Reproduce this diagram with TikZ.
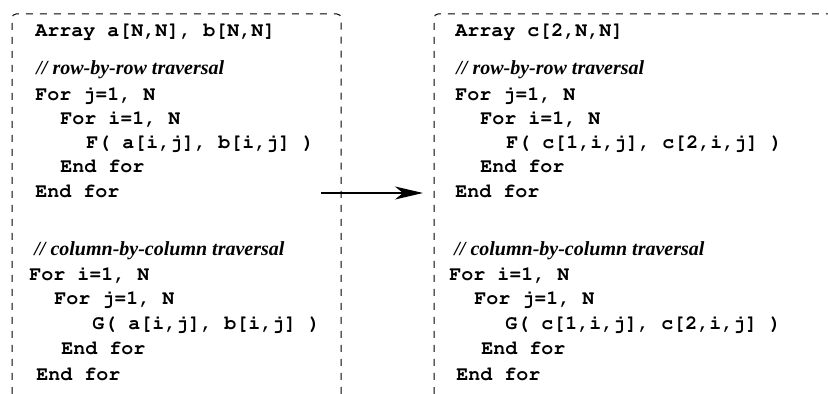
\documentclass[tikz,border=0pt]{standalone}
\usepackage[T1,TU]{fontenc}
\usepackage{fontspec}
\setmainfont{Liberation Serif}
\setmonofont{Liberation Mono}
\usetikzlibrary{arrows.meta}
\newcommand{\cour}{\fontencoding{T1}\fontfamily{pcr}\fontseries{b}\fontshape{n}\fontsize{10}{12}\selectfont}
\begin{document}
\begin{tikzpicture}[x=0.5pt,y=-0.5pt,
  code/.style={font=\cour, anchor=base west, inner sep=0pt},
  cmt/.style={font=\fontsize{10}{12}\selectfont\rmfamily\bfseries\itshape, anchor=base west, inner sep=0pt},
  frame/.style={draw=black, line width=0.5pt, dash pattern=on 3.5pt off 3.5pt, rounded corners=2pt},
  conn/.style={draw=black, line width=0.75pt, -{Stealth[length=14pt,width=6.5pt,inset=4pt]}}]
\useasboundingbox (0,0) rectangle (828,394);
% frames
\draw[frame] (12,394) -- (12,14) -- (341,14) -- (341,394);
\draw[frame] (434,394) -- (434,14) -- (832,14);
% left code
\node[code] (la) at (35,37) {Array a[N,N], b[N,N]};
\node[cmt]  (lc1) at (36,75) {// row-by-row traversal};
\node[code] (l1) at (35,101) {For j=1, N};
\node[code] (l2) at (60,125) {For i=1, N};
\node[code] (l3) at (86,149) {F( a[i,j], b[i,j] )};
\node[code] (l4) at (60,173) {End for};
\node[code] (l5) at (35,198) {End for};
\node[cmt]  (lc2) at (34,256) {// column-by-column traversal};
\node[code] (l6) at (29,281) {For i=1, N};
\node[code] (l7) at (54,305) {For j=1, N};
\node[code] (l8) at (92,330) {G( a[i,j], b[i,j] )};
\node[code] (l9) at (61,355) {End for};
\node[code] (l10) at (36,380) {End for};
% right code
\node[code] (ra) at (455,37) {Array c[2,N,N]};
\node[cmt]  (rc1) at (456,75) {// row-by-row traversal};
\node[code] (r1) at (455,101) {For j=1, N};
\node[code] (r2) at (480,125) {For i=1, N};
\node[code] (r3) at (506,149) {F( c[1,i,j], c[2,i,j] )};
\node[code] (r4) at (480,173) {End for};
\node[code] (r5) at (455,198) {End for};
\node[cmt]  (rc2) at (454,256) {// column-by-column traversal};
\node[code] (r6) at (449,281) {For i=1, N};
\node[code] (r7) at (474,305) {For j=1, N};
\node[code] (r8) at (505,330) {G( c[1,i,j], c[2,i,j] )};
\node[code] (r9) at (481,355) {End for};
\node[code] (r10) at (456,380) {End for};
% arrow
\coordinate (arrS) at (321,193);
\coordinate (arrE) at (423,193);
\draw[conn] (arrS) -- (arrE);
\end{tikzpicture}
\end{document}
